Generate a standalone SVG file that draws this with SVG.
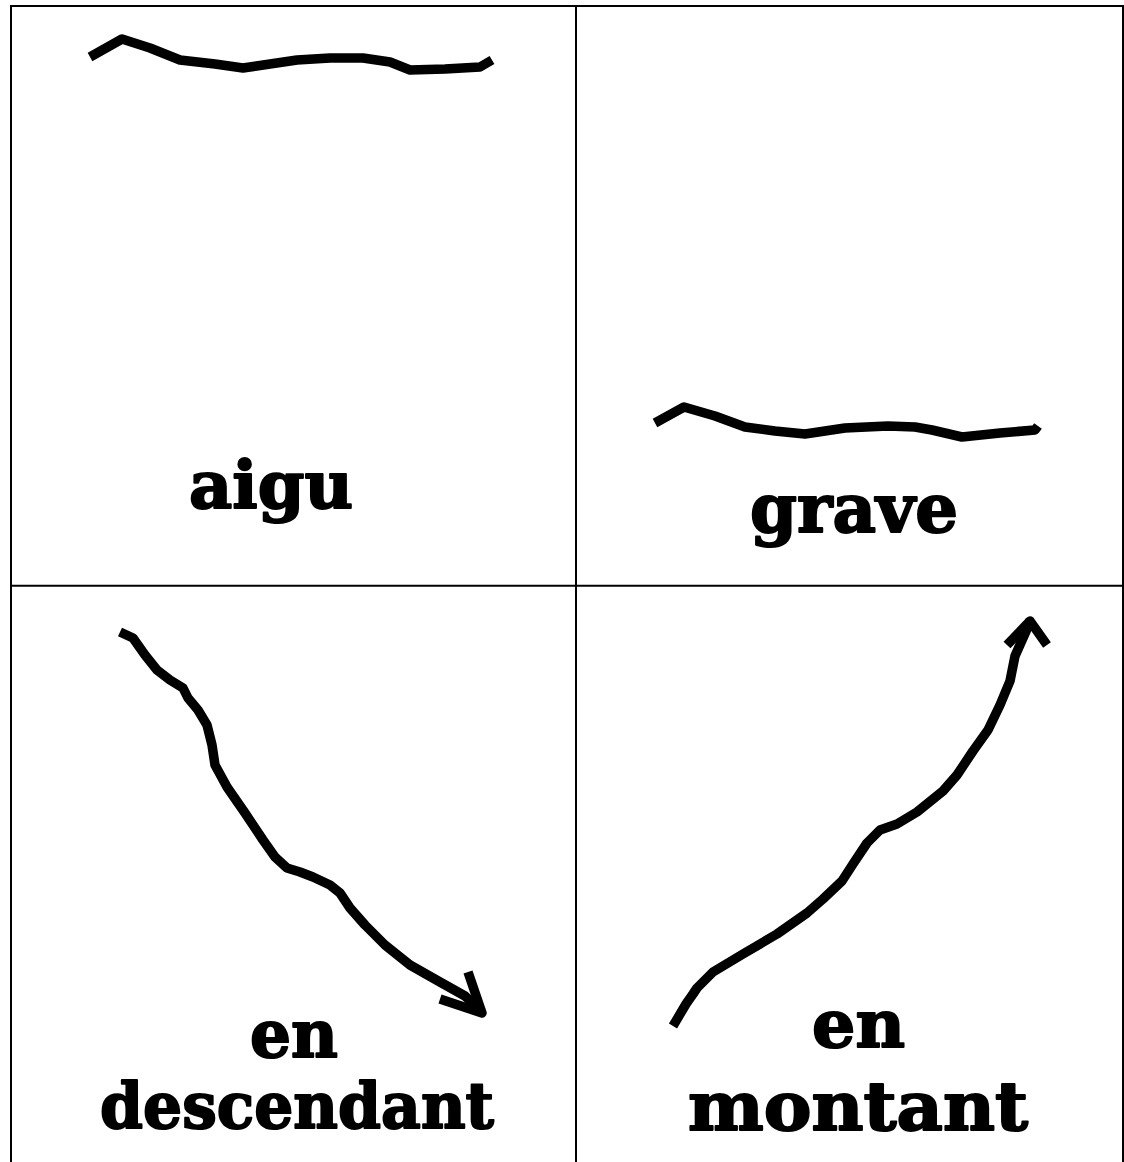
<svg xmlns="http://www.w3.org/2000/svg" width="1124" height="1162" viewBox="0 0 1124 1162">
<style>
.grid{stroke:#000;stroke-width:2;fill:none}
.ink{stroke:#000;stroke-width:9.5;fill:none;stroke-linejoin:round;stroke-linecap:butt}
.lbl{font-family:"DejaVu Serif","Liberation Serif",serif;font-weight:bold;fill:#000;stroke:#000;stroke-width:2;stroke-linejoin:round}
</style>
<rect width="1124" height="1162" fill="#fff"/>
<g id="grid">
<line class="grid" x1="11" y1="6" x2="1123" y2="6"/>
<line class="grid" x1="11" y1="5" x2="11" y2="1162"/>
<line class="grid" x1="1123" y1="5" x2="1123" y2="1162"/>
<line class="grid" x1="576" y1="5" x2="576" y2="1162"/>
<line class="grid" x1="11" y1="585.7" x2="1123" y2="585.7"/>
</g>
<g id="cell-aigu">
<path class="ink" d="M90,57 L122,39 L150,48 L180,60 L215,64 L243,68 L270,64 L297,60 L330,58 L363,58 L390,62 L410,70 L445,69 L480,67 L492,60"/>
<text class="lbl" x="189" y="508" font-size="66" textLength="164" lengthAdjust="spacingAndGlyphs">aigu</text>
</g>
<g id="cell-grave">
<path class="ink" d="M655,423 L684,407 L715,416 L745,427 L775,431 L805,434 L845,428 L888,426 L915,427 L932,430 L962,437 L1000,433 L1035,430 L1038,426"/>
<text class="lbl" x="750" y="532" font-size="68" textLength="208" lengthAdjust="spacingAndGlyphs">grave</text>
</g>
<g id="cell-descendant">
<path class="ink" d="M120,632 L133,638 L145,655 L157,670 L170,680 L183,688 L188,698 L198,710 L207,725 L212,745 L215,765 L227,787 L245,813 L263,840 L275,857 L287,868 L300,872 L313,877 L330,885 L340,893 L350,908 L365,925 L385,945 L410,965 L440,982 L465,996 L482,1012"/>
<path class="ink" d="M468,972 L482,1013 L440,999"/>
<text class="lbl" x="250" y="1057" font-size="66" textLength="88" lengthAdjust="spacingAndGlyphs">en</text>
<text class="lbl" x="100" y="1128" font-size="64" textLength="394" lengthAdjust="spacingAndGlyphs">descendant</text>
</g>
<g id="cell-montant">
<path class="ink" d="M673,1026 L686,1004 L693,994 L697,988 L713,972 L743,954 L777,934 L807,913 L823,899 L842,881 L853,864 L867,843 L880,830 L897,824 L917,812 L943,791 L957,775 L973,751 L988,730 L1000,705 L1010,681 L1015,656 L1027,629 L1030,620"/>
<path class="ink" d="M1007,645 L1030,621 L1047,645"/>
<text class="lbl" x="812" y="1047" font-size="66" textLength="93" lengthAdjust="spacingAndGlyphs">en</text>
<text class="lbl" x="688" y="1130" font-size="68" textLength="340" lengthAdjust="spacingAndGlyphs">montant</text>
</g>
</svg>
